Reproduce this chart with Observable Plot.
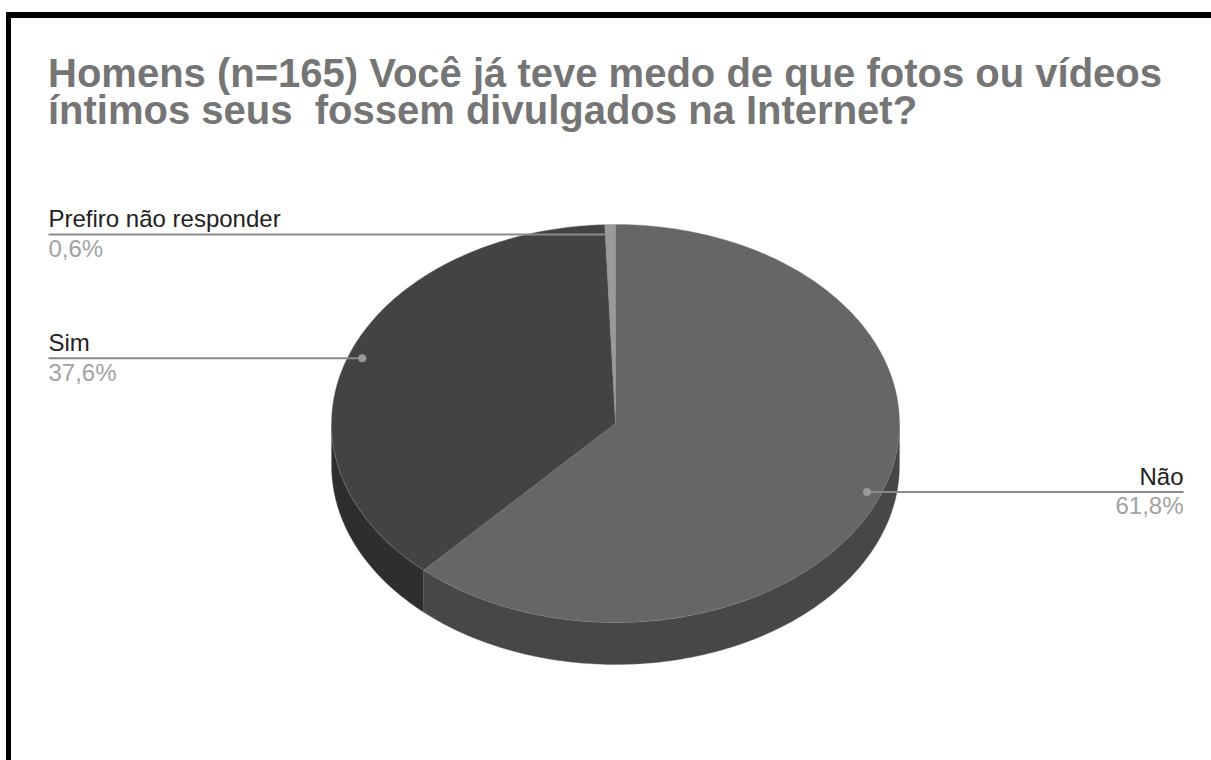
<!DOCTYPE html>
<html>
<head>
<meta charset="utf-8">
<script src="https://cdn.jsdelivr.net/npm/d3@7"></script>
<script src="https://cdn.jsdelivr.net/npm/@observablehq/plot@0.6"></script>
<style>
  html, body { margin: 0; padding: 0; background: #fff; overflow: hidden; }
  body { width: 1211px; height: 760px; position: relative; font-family: "Liberation Sans", Arial, sans-serif; }
  #frame { position: absolute; left: 6px; top: 12px; width: 1205px; height: 748px; border-top: 6px solid #000; border-left: 5px solid #000; box-sizing: border-box; }
  #title { position: absolute; left: 48px; top: 55px; font-weight: bold; font-size: 40px; line-height: 37px; color: #757575; white-space: pre; }
  #chart { position: absolute; left: 0; top: 140px; }
</style>
</head>
<body>
<div id="frame"></div>
<div id="title">Homens (n=165) Você já teve medo de que fotos ou vídeos
íntimos seus  fossem divulgados na Internet?</div>
<div id="chart"></div>
<script>
const categories = ["Não", "Sim", "Prefiro não responder"];
const values = [61.8, 37.6, 0.6];
const percentLabels = ["61,8%", "37,6%", "0,6%"];
const topColors = ["#666666", "#434343", "#9a9a9a"];
const sideColors = ["#474747", "#2e2e2e", "#5a5a5a"];

// layout
const W = 1211, H = 620;
const CX = 615, CY = 283, RX = 284, RY = 199, DEPTH = 42;
const LEFT_X = 48, RIGHT_X = 1183;

const total = d3.sum(values);
const rad = d => d * Math.PI / 180;
const px = (deg, r = 1) => CX + RX * r * Math.sin(rad(deg));
const py = (deg, r = 1) => CY - RY * r * Math.cos(rad(deg));

let acc = 0;
const slices = categories.map((c, i) => {
  const a0 = acc / total * 360;
  acc += values[i];
  const a1 = acc / total * 360;
  return {i, name: c, a0, a1, mid: (a0 + a1) / 2};
});

function arcPts(a0, a1, dy = 0) {
  const n = Math.max(2, Math.ceil(Math.abs(a1 - a0) / 1));
  return d3.range(n + 1).map(k => {
    const a = a0 + (a1 - a0) * k / n;
    return [px(a), py(a) + dy];
  });
}

const topPts = [];
const sidePts = [];
for (const s of slices) {
  const pts = [[CX, CY], ...arcPts(s.a0, s.a1), [CX, CY]];
  pts.forEach(([x, y], k) => topPts.push({id: s.i, x, y, k}));
  const st = Math.max(s.a0, 90), en = Math.min(s.a1, 270);
  if (en > st) {
    const band = [...arcPts(st, en), ...arcPts(en, st, DEPTH)];
    band.push(band[0]);
    band.forEach(([x, y], k) => sidePts.push({id: s.i, x, y, k}));
  }
}

const labels = slices.map(s => {
  const dx = px(s.mid, 0.95), dy = py(s.mid, 0.95);
  const left = Math.sin(rad(s.mid)) < 0;
  return {name: s.name, pct: percentLabels[s.i], dx, dy, lx: left ? LEFT_X : RIGHT_X, left};
});
const leftLabels = labels.filter(d => d.left);
const rightLabels = labels.filter(d => !d.left);

const font = "Liberation Sans, Arial, sans-serif";
const chart = Plot.plot({
  width: W, height: H,
  margin: 0,
  x: {domain: [0, W], range: [0, W], axis: null},
  y: {domain: [0, H], range: [0, H], axis: null},
  style: {fontFamily: font, background: "transparent"},
  marks: [
    Plot.line(sidePts, {x: "x", y: "y", z: "id", fill: d => sideColors[d.id], stroke: "#6a6a6a", strokeWidth: 0.6, strokeOpacity: 0.6, curve: "linear"}),
    Plot.line(topPts, {x: "x", y: "y", z: "id", fill: d => topColors[d.id], stroke: "#808080", strokeWidth: 0.6, strokeOpacity: 0.6, curve: "linear"}),
    Plot.link(labels, {x1: "lx", x2: "dx", y1: "dy", y2: "dy", stroke: "#8a8a8a", strokeWidth: 2}),
    Plot.dot(labels, {x: "dx", y: "dy", r: 4, fill: "#999999", stroke: null}),
    Plot.text(leftLabels, {x: "lx", y: "dy", text: "name", textAnchor: "start", dy: -15, fontSize: 24, fill: "#222222"}),
    Plot.text(leftLabels, {x: "lx", y: "dy", text: "pct", textAnchor: "start", dy: 14.5, fontSize: 24, fill: "#a2a2a2"}),
    Plot.text(rightLabels, {x: "lx", y: "dy", text: "name", textAnchor: "end", dy: -15, fontSize: 24, fill: "#222222"}),
    Plot.text(rightLabels, {x: "lx", y: "dy", text: "pct", textAnchor: "end", dy: 14.5, fontSize: 24, fill: "#a2a2a2"})
  ]
});
document.getElementById("chart").appendChild(chart);
</script>
</body>
</html>
